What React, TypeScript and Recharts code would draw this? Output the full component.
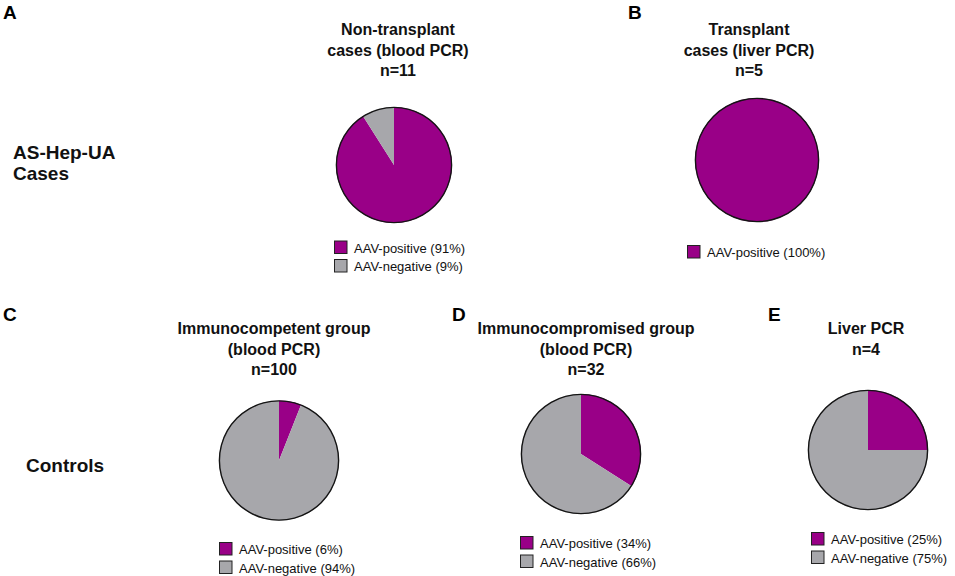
import React from 'react';
import { PieChart, Pie, Cell } from 'recharts';

// ---- data ----
const panelLetters = ['A', 'B', 'C', 'D', 'E'];
const panelTitles = [
  ['Non-transplant', 'cases (blood PCR)', 'n=11'],
  ['Transplant', 'cases (liver PCR)', 'n=5'],
  ['Immunocompetent group', '(blood PCR)', 'n=100'],
  ['Immunocompromised group', '(blood PCR)', 'n=32'],
  ['Liver PCR', 'n=4'],
];
const seriesNames = ['AAV-positive', 'AAV-negative'];
const positivePct = [91, 100, 6, 34, 25];
const negativePct = [9, 0, 94, 66, 75];
const rowLabels = [['AS-Hep-UA', 'Cases'], ['Controls']];
const outlineRing = [{ name: 'outline', value: 1 }];

// ---- styles / layout ----
const COLORS = ['#990087', '#a7a7ab'];
const W = 955;
const H = 576;
const FONT = '"Liberation Sans", Arial, Helvetica, sans-serif';

const layout = [
  { cx: 394, cy: 165, r: 58, titleX: 398, titleY: 35, letterX: 3, letterY: 19, legX: 334, legY: 252.5 },
  { cx: 757, cy: 160, r: 62, titleX: 749, titleY: 35, letterX: 628, letterY: 19, legX: 687, legY: 257 },
  { cx: 279, cy: 460.5, r: 60, titleX: 274, titleY: 334, letterX: 3, letterY: 321, legX: 219, legY: 554 },
  { cx: 581, cy: 454, r: 60, titleX: 586, titleY: 334, letterX: 452, letterY: 321, legX: 520, legY: 548 },
  { cx: 868, cy: 450, r: 60, titleX: 866, titleY: 334, letterX: 768, letterY: 321, legX: 811, legY: 544 },
];
const rowLabelPos = [
  { x: 13, y: 159 },
  { x: 26, y: 472 },
];
const TITLE_LH = 20.5;
const LEG_LH = 18.5;

function panelData(p: number) {
  return seriesNames
    .map((name, i) => ({ name, value: i === 0 ? positivePct[p] : negativePct[p] }))
    .filter((d) => d.value > 0);
}

export default function App() {
  const pies = layout.map((l, p) => {
    const data = panelData(p);
    return (
      <Pie
        key={'pie' + p}
        data={data}
        dataKey="value"
        nameKey="name"
        cx={l.cx}
        cy={l.cy}
        innerRadius={0}
        outerRadius={l.r}
        startAngle={90}
        endAngle={-270}
        stroke="none"
        isAnimationActive={false}
      >
        {data.map((d, i) => (
          <Cell key={i} fill={COLORS[seriesNames.indexOf(d.name)]} />
        ))}
      </Pie>
    );
  });
  const rings = layout.map((l, p) => (
    <Pie
      key={'ring' + p}
      data={outlineRing}
      dataKey="value"
      cx={l.cx}
      cy={l.cy}
      innerRadius={l.r - 1.1}
      outerRadius={l.r + 0.3}
      startAngle={90}
      endAngle={-270}
      stroke="none"
      fill="#141414"
      isAnimationActive={false}
    />
  ));

  return (
    <div style={{ position: 'absolute', left: 0, top: 0, width: W, height: H, background: '#fff' }}>
      <PieChart width={W} height={H} margin={{ top: 0, right: 0, bottom: 0, left: 0 }}>
        {pies}
        {rings}
      </PieChart>
      <svg
        width={W}
        height={H}
        style={{ position: 'absolute', left: 0, top: 0, pointerEvents: 'none' }}
        fontFamily={FONT}
      >
        {layout.map((l, p) => (
          <g key={'txt' + p}>
            <text x={l.letterX} y={l.letterY} fontSize={19} fontWeight="bold" fill="#000">
              {panelLetters[p]}
            </text>
            {panelTitles[p].map((line, k) => (
              <text
                key={k}
                x={l.titleX}
                y={l.titleY + k * TITLE_LH}
                fontSize={16}
                fontWeight="bold"
                textAnchor="middle"
                fill="#111"
              >
                {line}
              </text>
            ))}
            {panelData(p).map((d, k) => {
              const ci = seriesNames.indexOf(d.name);
              const y = l.legY + k * LEG_LH;
              return (
                <g key={'leg' + k}>
                  <rect
                    x={l.legX + 0.5}
                    y={y - 11.5}
                    width={12.5}
                    height={12.5}
                    fill={COLORS[ci]}
                    stroke="#222"
                    strokeWidth={1}
                  />
                  <text x={l.legX + 20} y={y} fontSize={13} fill="#111">
                    {`${d.name} (${d.value}%)`}
                  </text>
                </g>
              );
            })}
          </g>
        ))}
        {rowLabels.map((lines, r) =>
          lines.map((line, k) => (
            <text
              key={'row' + r + '-' + k}
              x={rowLabelPos[r].x}
              y={rowLabelPos[r].y + k * 21}
              fontSize={19}
              fontWeight="bold"
              fill="#111"
            >
              {line}
            </text>
          ))
        )}
      </svg>
    </div>
  );
}
